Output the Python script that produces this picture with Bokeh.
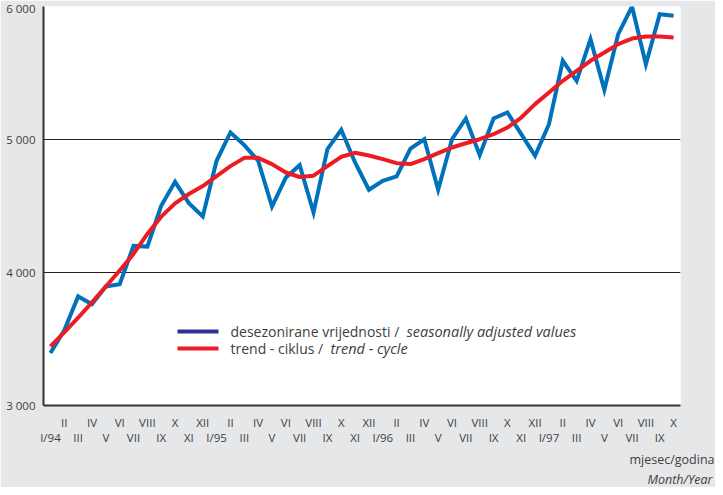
from bokeh.plotting import figure
from bokeh.models import LinearAxis, FixedTicker, Label, Range1d, Title
from bokeh.embed import file_html
from bokeh.resources import INLINE

# ---------------- data ----------------
months = ["I/94", "II", "III", "IV", "V", "VI", "VII", "VIII", "IX", "X", "XI", "XII",
          "I/95", "II", "III", "IV", "V", "VI", "VII", "VIII", "IX", "X", "XI", "XII",
          "I/96", "II", "III", "IV", "V", "VI", "VII", "VIII", "IX", "X", "XI", "XII",
          "I/97", "II", "III", "IV", "V", "VI", "VII", "VIII", "IX", "X"]

seasonally_adjusted = [3395, 3565, 3820, 3762, 3895, 3912, 4200, 4195, 4501, 4682, 4521, 4421,
                       4840, 5053, 4958, 4840, 4496, 4714, 4807, 4451, 4927, 5073, 4827, 4622,
                       4689, 4722, 4932, 5002, 4622, 5002, 5158, 4882, 5158, 5203, 5040, 4877,
                       5115, 5592, 5441, 5754, 5374, 5792, 6000, 5566, 5942, 5930]

trend_cycle = [3445, 3550, 3660, 3775, 3895, 4015, 4140, 4290, 4420, 4520, 4590, 4650,
               4725, 4800, 4862, 4862, 4815, 4752, 4718, 4728, 4800, 4870, 4900, 4880,
               4852, 4822, 4815, 4852, 4897, 4940, 4972, 5002, 5040, 5090, 5165, 5266,
               5353, 5441, 5516, 5592, 5654, 5717, 5759, 5774, 5774, 5767]

y_ticks = [3000, 4000, 5000, 6000]
y_tick_labels = ["3 000", "4 000", "5 000", "6 000"]
grid_values = [4000, 5000]

legend_regular = ["desezonirane vrijednosti / ", "trend - ciklus / "]
legend_italic = ["seasonally adjusted values", "trend - cycle"]
footer = ["mjesec/godina", "Month/Year"]

x = list(range(len(months)))

# ---------------- styling ----------------
FONT = "Open Sans"
TXT = "#404040"
BG = "#e6e7e9"
BLUE = "#0072bc"
NAVY = "#2e3192"
RED = "#ed1c24"

X0, X1 = -0.5, 45.5
Y0, Y1 = 3000, 6000

p = figure(width=715, height=487, output_backend="svg", toolbar_location=None,
           x_range=Range1d(X0, X1), y_range=Range1d(Y0, Y1),
           x_axis_type=None, min_border_left=43, min_border_right=35,
           min_border_top=6, min_border_bottom=82)
p.border_fill_color = BG
p.background_fill_color = "white"
p.outline_line_color = None

# y axis
p.yaxis.ticker = FixedTicker(ticks=y_ticks)
p.yaxis.major_label_overrides = {t: l for t, l in zip(y_ticks, y_tick_labels)}
p.yaxis.axis_line_width = 2
p.yaxis.axis_line_color = "#333333"
p.yaxis.major_tick_line_color = None
p.yaxis.minor_tick_line_color = None
p.yaxis.major_tick_out = 0
p.yaxis.major_tick_in = 0
p.yaxis.major_label_standoff = 8
p.yaxis.major_label_text_font = FONT
p.yaxis.major_label_text_font_size = "11.5px"
p.yaxis.major_label_text_color = TXT

p.ygrid.ticker = FixedTicker(ticks=grid_values)
p.ygrid.grid_line_color = "#222222"
p.ygrid.grid_line_width = 1

# x axes: two rows of month labels
upper_ticks = [i for i in x if i % 2 == 1]
lower_ticks = [i for i in x if i % 2 == 0]

ax_up = LinearAxis(ticker=FixedTicker(ticks=upper_ticks),
                   major_label_overrides={i: months[i] for i in upper_ticks})
ax_lo = LinearAxis(ticker=FixedTicker(ticks=lower_ticks),
                   major_label_overrides={i: months[i] for i in lower_ticks})
for ax in (ax_up, ax_lo):
    ax.major_tick_line_color = None
    ax.minor_tick_line_color = None
    ax.major_tick_out = 0
    ax.major_tick_in = 0
    ax.major_label_text_font = FONT
    ax.major_label_text_font_size = "11.5px"
    ax.major_label_text_color = TXT
ax_up.axis_line_width = 2
ax_up.axis_line_color = "#333333"
ax_up.major_label_standoff = 9
ax_lo.axis_line_color = None
ax_lo.major_label_standoff = -3
p.add_layout(ax_up, "below")
p.add_layout(ax_lo, "below")

# series
p.line(x, seasonally_adjusted, line_color=BLUE, line_width=4, line_join="miter")
p.line(x, trend_cycle, line_color=RED, line_width=4, line_join="round")


# helpers: page pixel -> data coordinate (for legend placement)
def dx(px):
    return X0 + (px - 51) / 637 * (X1 - X0)


def dy(py):
    return Y0 + (413 - py) / 399 * (Y1 - Y0)


# manual legend
rows_y = [339, 356]
colors = [NAVY, RED]
italic_x = [414, 338]
for ry, c, reg, it, ix in zip(rows_y, colors, legend_regular, legend_italic, italic_x):
    p.segment(x0=[dx(185)], y0=[dy(ry)], x1=[dx(226)], y1=[dy(ry)],
              line_color=c, line_width=4)
    p.add_layout(Label(x=dx(238), y=dy(ry), text=reg, text_font=FONT,
                       text_font_size="14px", text_color=TXT, text_baseline="middle"))
    p.add_layout(Label(x=dx(ix), y=dy(ry), text=it, text_font=FONT,
                       text_font_size="14.5px", text_color=TXT, text_baseline="middle",
                       text_font_style="italic"))

# footer (below the month rows, partly running off the right edge as in the original)
p.add_layout(Title(text=footer[0], align="left", offset=586, text_font=FONT,
                   text_font_size="12.5px", text_font_style="normal", text_color=TXT,
                   standoff=2), "below")
p.add_layout(Title(text=footer[1], align="left", offset=604, text_font=FONT,
                   text_font_size="12.5px", text_font_style="italic", text_color=TXT,
                   standoff=0), "below")

open("out.html", "w").write(file_html(p, INLINE))
